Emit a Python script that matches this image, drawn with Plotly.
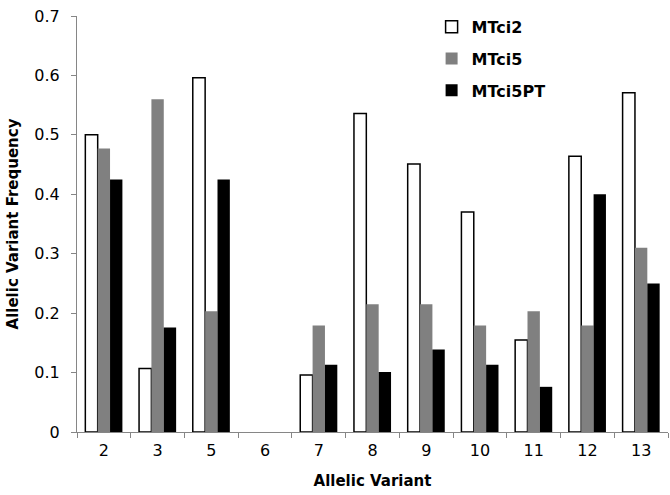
import plotly.graph_objects as go

categories = ["2", "3", "5", "6", "7", "8", "9", "10", "11", "12", "13"]
mtci2 = [0.500, 0.107, 0.596, 0, 0.096, 0.536, 0.451, 0.370, 0.155, 0.464, 0.571]
mtci5 = [0.477, 0.560, 0.203, 0, 0.179, 0.215, 0.215, 0.179, 0.203, 0.179, 0.310]
mtci5pt = [0.425, 0.176, 0.425, 0, 0.113, 0.101, 0.139, 0.113, 0.076, 0.400, 0.250]

FONT = "DejaVu Sans"

outline_w = [1.5 if v > 0 else 0 for v in mtci2]

fig = go.Figure()
fig.add_trace(go.Bar(x=categories, y=mtci2, name="MTci2", legendgroup="a",
                     marker=dict(color="white", line=dict(color="black", width=outline_w))))
fig.add_trace(go.Bar(x=categories, y=mtci5, name="MTci5", legendgroup="b",
                     marker=dict(color="#808080", line=dict(width=0))))
fig.add_trace(go.Bar(x=categories, y=mtci5pt, name="MTci5PT", legendgroup="c",
                     marker=dict(color="black", line=dict(width=0))))

fig.update_layout(
    template="none",
    width=670, height=495,
    margin=dict(l=77, r=2, t=16, b=63, autoexpand=False),
    plot_bgcolor="white", paper_bgcolor="white",
    barmode="group", bargap=0.31, bargroupgap=0,
    font=dict(family=FONT, size=16, color="black"),
    showlegend=True,
    legend=dict(x=0.6, y=1.015, xanchor="left", yanchor="top",
                traceorder="grouped", tracegroupgap=8,
                font=dict(family=FONT, size=16, color="black", weight="bold"),
                bgcolor="rgba(0,0,0,0)", itemwidth=30),
    xaxis=dict(type="category", showline=True, linecolor="#868686", linewidth=1,
               ticks="outside", tickson="boundaries", ticklen=5, tickcolor="#868686",
               tickfont=dict(size=16), automargin=False, ticklabelstandoff=4,
               title=dict(text="Allelic Variant", font=dict(size=15, weight="bold"), standoff=16),
               showgrid=False, zeroline=False),
    yaxis=dict(range=[0, 0.7], dtick=0.1, showline=True, linecolor="#868686", linewidth=1,
               ticks="outside", ticklen=5, tickcolor="#868686", showgrid=False, zeroline=False,
               tickfont=dict(size=16), ticklabelstandoff=8, automargin=False,
               title=dict(text="Allelic Variant Frequency", font=dict(size=15, weight="bold"), standoff=12)),
)

fig.write_html("out.html", config={"displayModeBar": False},
               post_script="document.body.style.margin='0';document.body.style.overflow='hidden';")
